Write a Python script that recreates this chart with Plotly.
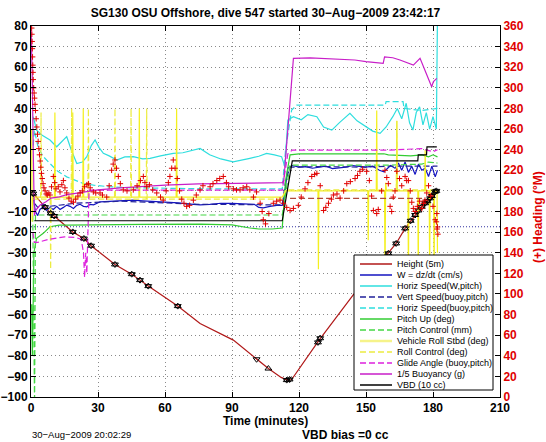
import plotly.graph_objects as go

# ---------------- data ----------------
title_text = "SG130 OSU Offshore, dive 547 started 30\u2212Aug\u22122009 23:42:17"
x_label = "Time (minutes)"
y2_label = "(+) Heading (\u00b0M)"
footer_left = "30\u2212Aug\u22122009 20:02:29"
footer_mid = "VBD bias =0 cc"
x_ticks = [0, 30, 60, 90, 120, 150, 180, 210]

legend_labels = ["Height (5m)", "W = dz/dt (cm/s)", "Horiz Speed(W,pitch)",
                 "Vert Speed(buoy,pitch)", "Horiz Speed(buoy,pitch)", "Pitch Up (deg)",
                 "Pitch Control (mm)", "Vehicle Roll Stbd (deg)", "Roll Control (deg)",
                 "Glide Angle (buoy,pitch)", "1/5 Buoyancy (g)", "VBD (10 cc)"]

height_t = [0, 1, 6.3, 8.8, 10.4, 18.7, 23.7, 26.9, 37.6, 45.1, 48.8, 52.5, 65.7, 75.7, 90.6,
            101, 106.3, 112, 114.8, 116.7, 129, 144.2, 160, 163.5, 167.5, 172, 175, 178.7, 180.9, 182]
height_v = [0, -1.3, -7.9, -10.9, -12.2, -19.9, -23.1, -26.6, -35.7, -40.4, -43.3, -46.2, -55.9, -64.3, -72.4,
            -81.7, -86.2, -90.5, -91.8, -91.5, -72.4, -50.6, -30.3, -25.5, -18.2, -11.7, -7.7, -3.6, -0.4, 0.3]

mk_up_t = [1, 6.3, 8.8, 10.4, 18.7, 23.7, 26.9, 37.6, 45.1, 48.8, 52.5, 65.7, 106.3, 114.5, 115.8,
           128.5, 129.5, 160, 163.5, 167.5, 170, 172, 173.5, 175, 176.5, 177.5, 178.7, 179.5, 180.9, 181.5]
mk_up_v = [-1.3, -7.9, -10.9, -12.2, -19.9, -23.1, -26.6, -35.7, -40.4, -43.3, -46.2, -55.9, -86.2, -91.8, -91.5,
           -73.5, -71.5, -30.3, -25.5, -18.2, -14.5, -11.7, -9.5, -7.7, -6, -5, -3.6, -2.5, -0.4, 0]
mk_dn_t = [1, 6.3, 8.8, 10.4, 18.7, 23.7, 26.9, 37.6, 45.1, 48.8, 52.5, 65.7, 101, 114.5, 115.8,
           128.5, 129.5, 160, 163.5, 167.5, 170, 172, 173.5, 175, 176.5, 177.5, 178.7, 179.5, 180.9, 181.5]
mk_dn_v = [-1.3, -7.9, -10.9, -12.2, -19.9, -23.1, -26.6, -35.7, -40.4, -43.3, -46.2, -55.9, -81.7, -91.8, -91.5,
           -73.5, -71.5, -30.3, -25.5, -18.2, -14.5, -11.7, -9.5, -7.7, -6, -5, -3.6, -2.5, -0.4, 0]

w_t = [0.5, 1.2, 2, 3, 4, 5.5, 7, 8.5, 10, 11.5, 13, 14.5, 16, 17.5, 19, 20.5, 22, 23.5, 25, 26.5, 28, 31, 35,
       40, 45.7, 50, 55, 60.8, 66, 70, 75.7, 80, 85, 90, 95, 100, 102, 104, 107, 110, 112.5,
       113.5, 115, 117, 120, 123, 126, 129, 132, 135, 138, 141, 144, 147, 150, 153, 156, 158, 159.5, 161,
       163, 164.5, 166, 167.5, 169, 170.5, 172, 173.5, 175, 176.5, 178, 179.5, 181, 182]
w_v = [0, -5, -10, -12, -9, -7.7, -9.5, -8, -9, -7.5, -9, -8, -6.9, -7.5, -8.5, -7, -6.5, -7.5, -7.7, -6.5, -6.8, -5.3, -5,
       -4.8, -4.5, -4.8, -5.1, -5.3, -5.8, -6.3, -6.8, -6.5, -6, -6.1, -6.2, -6.5, -8, -8.2, -7.5, -7, -7,
       -2, 11, 12.3, 11.5, 11.8, 11, 11.5, 12, 10.8, 11, 11.5, 12.3, 12, 11.5, 12, 10, 9.3, 11, 12.3,
       11, 13.5, 10, 14, 9, 12, 8, 13, 10, 11, 7, 12, 6.8, 10]

hs_t = [1, 2.5, 5, 8.5, 11.5, 14, 16, 18, 20.5, 23, 25, 27, 28.7, 30.5, 32.4, 35, 38.4, 42, 45.8, 50, 53.3, 58,
        63.7, 68, 75.7, 80, 85, 90.5, 95, 98, 102, 105.5, 109, 112.2, 113.7, 115, 117.5, 121, 124, 128, 131,
        134.7, 138, 140, 142.8, 146, 150, 153, 156.3, 159, 162, 164, 166, 168, 169.5, 171, 172.5, 174, 175.5,
        177, 178.5, 180, 181.5, 181.8, 182]
hs_v = [36, 29.5, 27, 24.7, 21.4, 24, 26.3, 20, 13.3, 14, 16.6, 22, 24.7, 21, 18.2, 17, 15, 16.5, 16.6, 15.5, 15.8, 17,
        18.2, 18.5, 20.6, 17.5, 15.5, 14.1, 15, 15.8, 16.8, 18.2, 17.5, 16.6, 11.7, 34.4, 36, 34.5, 37, 36, 31,
        29.5, 33, 35, 37.6, 34, 31.1, 29, 27.9, 31, 36, 40, 35, 42.5, 33, 29.5, 38, 40.8, 32,
        38, 30, 36, 30, 85, 85]

vs_t = [0.8, 1.5, 3, 5, 8, 12, 20, 40, 75, 112.5, 114, 116, 130, 150, 160, 170, 182]
vs_v = [-2, -6, -8, -6.5, -7.5, -7, -6, -5, -6.5, -6.8, 5, 11.5, 11.8, 11.5, 12, 12, 12]

hb_t = [1, 1.5, 3, 5.2, 8.5, 12, 16, 20, 23.4, 28, 35, 45, 60, 80, 100, 112.5, 114, 116.7, 119, 140, 158.6,
        159, 166.6, 167, 175, 182]
hb_v = [22, 29.5, 22, 17, 13.3, 9.5, 6.8, 5, 3.6, 2.8, 2, 1.5, 1.2, 1, 1, 1, 20, 39.2, 41.6, 41.6, 41.6,
        43.3, 43.3, 40, 39, 40]

pu_t = [0.3, 0.6, 0.9, 1.3, 2.5, 5.5, 8.5, 12.7, 16, 30, 50, 75.7, 90, 98, 102, 108, 112.5, 114, 116, 120,
        140, 158, 160, 170, 175, 178, 180, 182]
pu_v = [-55, -80, -60, -30, -23, -20.6, -17.4, -16.6, -16.6, -16.3, -16.2, -16.1, -16.5, -18, -18.5, -18.5, -18, 5, 17.5, 18,
        18, 18, 17.5, 17, 17.5, 16.5, 17.5, 16.5]

pc_t = [0.8, 1.2, 1.6, 2.0, 112.5, 116, 117, 160, 175, 178, 182]
pc_v = [-12, -105, -105, -11.7, -11.7, 12.5, 12.5, 12.5, 13, 14, 13.5]

vr_t = [0.3, 0.5, 0.8, 10.5, 10.7, 10.9, 18.5, 18.7, 18.9, 23.2, 23.4, 23.6, 48.3, 48.5, 48.7, 65.0, 65.2, 65.4,
        112.5, 114, 128.5, 128.7, 128.9, 150.8, 151, 151.2, 154.6, 154.8, 155.0, 158.3, 158.5, 158.8, 159.2,
        163.6, 163.8, 164.0, 168.8, 169, 169.2, 173.2, 173.4, 173.6, 176.3, 176.5, 176.7, 178.3, 178.5, 178.7,
        180.3, 180.5, 180.7, 181.8, 182]
vr_v = [30, -15, -3, -3, 38, -3, -3, 38, -3, -3, 40, -3, -3, 40, -3, -3, 40, -3,
        -3, 0, 0, -38, 0, 0, -24, 0, 0, 39, 0, 0, -43, 4, 0,
        0, 34, 0, 0, -43, 0, 0, -40, 0, 0, 20, 0, 0, -43, 0,
        0, -45, 0, 0, -30]

rc_t = [0.8, 4.3, 4.5, 4.7, 8.6, 8.8, 9.0, 18.0, 18.2, 18.4, 25.5, 25.7, 25.9, 37.4, 37.6, 37.8, 44.6, 44.8, 45.0,
        51.6, 51.8, 52.0, 112.5, 114, 160, 163.6, 163.8, 164, 182]
rc_v = [-4, -4, 38, -4, -4, -38, -4, -4, 40, -4, -4, 40, -4, -4, 40, -4, -4, 40, -4,
        -4, 40, -4, -4, 0.5, 0.5, 0.5, 34, 0.5, 0.5]

ga_t = [0.8, 1.5, 3, 8, 15, 20, 22.5, 23.5, 24, 24.5, 25, 25.5, 26, 30, 60, 112.5, 115, 117, 160, 175, 180, 182]
ga_v = [-20, -25, -25, -23.5, -22.3, -22.6, -23.5, -30, -42, -30, -40, -10, 0.4, 0.4, 0.4, 0.4, 18, 19.8, 19.8, 20.5, 19, 20]

bu_t = [0, 0.5, 1, 1.5, 2.2, 4, 6.7, 9, 12.7, 16, 20, 30, 40, 50, 60, 75, 90, 100, 110, 112.5, 113.2, 117.5, 125,
        135, 145, 150, 155, 157.7, 158.3, 162, 165.2, 168, 171.2, 174.2, 176.4, 178, 179.4, 180.2, 181.7]
bu_v = [80, 60, 20, -12, -9.3, -7, -5.3, -3.5, -2.9, -1.8, -1.2, 0.5, 1.5, 2.2, 2.8, 3.4, 3.6, 3.8, 4, 4, 5, 64.3, 64.5,
        64, 63.5, 62.7, 62.4, 61.9, 65, 64.6, 63.5, 62.5, 61, 64.3, 58.6, 55, 50.5, 53, 54.6]

vbd_t = [1.5, 112.5, 117, 173.2, 173.4, 177.1, 177.3, 181.7]
vbd_v = [-14.5, -14.5, 14.6, 14.6, 17.5, 17.5, 21.4, 21.4]

ref_t = [0, 210]
ref_v = [-17.4, -17.4]
rb_t = [116, 176]
rb_v = [-3.6, -3.6]

heading_t = [0.3, 0.4, 0.5, 0.6, 0.7, 0.8, 0.9, 1.0, 1.2, 1.4, 1.6, 1.8, 2.0, 2.3, 2.6, 2.9, 3.2, 3.5, 3.8, 4.1,
             4.4, 4.7, 5.0, 5.4, 5.8, 6.3, 6.8, 7.3, 8.0, 8.5, 9.2, 10, 10.6, 11.2, 12.2, 13, 13.8, 14.5, 15.2,
             16, 17, 18, 19, 20, 21, 22, 23, 24, 25, 25.7, 26.5, 27.9, 29, 30.9, 32, 33.9, 35, 36.1, 36.8,
             37.6, 38.3, 39.1, 40, 41.3, 43, 45.8, 47.5, 49, 50.3, 51, 51.8, 53, 54.5, 56.3, 58, 59.2, 60.5,
             61.5, 62.2, 63, 63.7, 64.5, 65.5, 66.5, 67.5, 68.5, 69.7, 71, 72.7, 74, 75.7, 77, 80.2, 81.5, 83.2,
             84.5, 86.1, 87.5, 88.5, 90.6, 92, 93.6, 95, 96.6, 98, 99.6, 101, 102.6, 103.5, 104, 105, 106.5,
             108.5, 110, 111.5, 113, 114.5, 116, 117.5, 119.7, 121, 122.7, 124, 125.7, 127, 128, 129.5, 131,
             132, 133.2, 134.5, 135.4, 137, 138.4, 140, 141.4, 143, 145.1, 146.2, 147.3, 148.5, 150.3, 151.5,
             152.5, 153.3, 154.8, 155.5, 157, 158.5, 159.3, 160, 160.8, 161.5, 162.2, 163, 163.8, 165, 166,
             167.5, 168.2, 169, 169.8, 170.5, 171.2, 172, 173, 174, 175, 175.7, 176.4, 177.2, 178, 179, 180,
             181, 181.5, 181.7, 181.8, 182, 182.2]
heading_h = [358, 352, 345, 338, 330, 322, 315, 308, 300, 295, 290, 284, 278, 270, 262, 255, 248, 241, 235, 229,
             223, 217, 212, 207, 203, 200, 197, 196, 198, 196, 204, 214, 208, 202, 204, 199, 206, 210, 203,
             198, 193, 190, 189, 192, 195, 198, 200, 204, 206, 207, 203, 199, 198, 198, 196, 194, 205, 220, 226,
             230, 222, 214, 207, 201, 200, 201, 205, 210, 214, 208, 204, 206, 201, 198, 194, 191, 200,
             208, 214, 222, 230, 222, 212, 200, 192, 188, 185, 186, 191, 196, 201, 205, 204, 207, 210,
             212, 214, 208, 204, 202, 201, 201, 203, 204, 201, 194, 199, 188, 180, 172, 168, 178,
             188, 190, 191, 188, 184, 181, 183, 186, 194, 202, 208, 214, 216, 217, 205, 181,
             184, 188, 192, 196, 197, 193, 200, 207, 209, 212, 215, 219, 221, 219, 210,
             195, 181, 178, 182, 200, 220, 213, 207, 185, 180, 194, 200, 219, 212, 205,
             214, 210, 210, 200, 189, 183, 180, 185, 190, 183, 188, 191, 198, 205, 195, 185,
             172, 170, 178, 163, 165, 158]

# ---------------- styles ----------------
C_HEIGHT = "#b01818"
C_W = "#1414c0"
C_CYAN = "#2edede"
C_VS = "#22229a"
C_PITCH = "#33cc33"
C_PCTL = "#44d844"
C_ROLL = "#f4f020"
C_RCTL = "#ecec40"
C_GLIDE = "#dd22dd"
C_BUOY = "#c81ec8"
C_VBD = "#000000"
C_HEAD = "#e00000"
DASH = "6px,3px"
FONT = "Liberation Sans, Arial, Helvetica, sans-serif"

fig = go.Figure()


def add_line(t, v, color, dash="solid", width=1.2):
    fig.add_trace(go.Scatter(x=t, y=v, mode="lines", line=dict(color=color, width=width, dash=dash),
                             showlegend=False, hoverinfo="skip"))


add_line(ref_t, ref_v, "#3030a0", dash="1px,2px", width=1)
add_line(height_t, height_v, C_HEIGHT)
add_line(w_t, w_v, C_W)
add_line(hs_t, hs_v, C_CYAN)
add_line(vs_t, vs_v, C_VS, dash=DASH)
add_line(hb_t, hb_v, C_CYAN, dash=DASH)
add_line(pu_t, pu_v, C_PITCH)
add_line(pc_t, pc_v, C_PCTL, dash=DASH)
add_line(vr_t, vr_v, C_ROLL)
add_line(rc_t, rc_v, C_RCTL, dash=DASH)
add_line(ga_t, ga_v, C_GLIDE, dash=DASH)
add_line(bu_t, bu_v, C_BUOY)
add_line(rb_t, rb_v, "#b04a3a", dash=DASH)
add_line(vbd_t, vbd_v, C_VBD)

fig.add_trace(go.Scatter(x=mk_up_t, y=mk_up_v, mode="markers", showlegend=False, hoverinfo="skip",
                         marker=dict(symbol="triangle-up-open", size=6, color="black", line=dict(width=1, color="black"))))
fig.add_trace(go.Scatter(x=mk_dn_t, y=mk_dn_v, mode="markers", showlegend=False, hoverinfo="skip",
                         marker=dict(symbol="triangle-down-open", size=6, color="black", line=dict(width=1, color="black"))))

fig.add_trace(go.Scatter(x=heading_t, y=heading_h, mode="markers", yaxis="y2", showlegend=False, hoverinfo="skip",
                         marker=dict(symbol="cross-thin", size=4, color=C_HEAD, line=dict(width=1, color=C_HEAD))))

# ---------------- manual legend (compact, MATLAB style) ----------------
legend_styles = [(C_HEIGHT, "solid"), (C_W, "solid"), (C_CYAN, "solid"), (C_VS, DASH), (C_CYAN, DASH),
                 (C_PITCH, "solid"), (C_PCTL, DASH), ("#f6f38a", "solid"), (C_RCTL, DASH), (C_GLIDE, DASH),
                 (C_BUOY, "solid"), (C_VBD, "solid")]

L, T, PW, PH = 31, 26, 469, 371


def px_x(p):
    return (p - L) / PW


def px_y(p):
    return (T + PH - p) / PH


shapes = [dict(type="rect", xref="paper", yref="paper", x0=px_x(354), x1=px_x(493), y0=px_y(390), y1=px_y(255),
               line=dict(color="black", width=1), fillcolor="white", layer="above")]
annotations = []
for i, (lab, (col, dsh)) in enumerate(zip(legend_labels, legend_styles)):
    yy = px_y(264 + 11 * i)
    shapes.append(dict(type="line", xref="paper", yref="paper", x0=px_x(360), x1=px_x(392), y0=yy, y1=yy,
                       line=dict(color=col, width=1.5 if i != 7 else 2.5, dash=dsh), layer="above"))
    annotations.append(dict(text=lab, xref="paper", yref="paper", x=px_x(395), y=yy, xanchor="left",
                            yanchor="middle", showarrow=False, font=dict(family=FONT, size=9, color="black")))

annotations.append(dict(text=x_label, xref="paper", yref="paper", x=0.5, y=px_y(421), xanchor="center",
                        yanchor="middle", showarrow=False, font=dict(family=FONT, size=12, color="black", weight="bold")))
annotations.append(dict(text=footer_left, xref="paper", yref="paper", x=px_x(30), y=px_y(434), xanchor="left",
                        yanchor="middle", showarrow=False, font=dict(family=FONT, size=9.5, color="black")))
annotations.append(dict(text=footer_mid, xref="paper", yref="paper", x=px_x(300), y=px_y(435), xanchor="left",
                        yanchor="middle", showarrow=False, font=dict(family=FONT, size=12, color="black", weight="bold")))
annotations.append(dict(text=y2_label, xref="paper", yref="paper", x=px_x(538), y=px_y(217), xanchor="center",
                        yanchor="middle", textangle=-90, showarrow=False,
                        font=dict(family=FONT, size=12, color="#e00000", weight="bold")))

axis_common = dict(showline=True, linecolor="black", linewidth=1, ticks="inside", ticklen=5, tickcolor="black",
                   zeroline=False, showgrid=True, gridcolor="#8a8a8a", griddash="1px,3px", gridwidth=1,
                   automargin=False)

fig.update_layout(
    template="none",
    width=546, height=442,
    margin=dict(l=L, r=546 - L - PW, t=T, b=442 - T - PH, pad=0),
    paper_bgcolor="white", plot_bgcolor="white",
    font=dict(family=FONT, size=12, color="black"),
    showlegend=False,
    title=dict(text=title_text, x=0.5 * (L + L + PW) / 546, xanchor="center", y=1 - 13 / 442, yanchor="middle",
               yref="container", font=dict(family=FONT, size=12, weight="bold")),
    xaxis=dict(range=[0, 210], tickvals=x_ticks, mirror="ticks",
               tickfont=dict(family=FONT, size=12, weight="bold"), **axis_common),
    yaxis=dict(range=[-100, 80], dtick=10, mirror="ticks",
               tickfont=dict(family=FONT, size=12, weight="bold"), **axis_common),
    yaxis2=dict(range=[0, 360], dtick=20, overlaying="y", side="right", showgrid=False, zeroline=False,
                showline=True, linecolor="black", ticks="inside", ticklen=5, tickcolor="black", automargin=False,
                tickfont=dict(family=FONT, size=12, weight="bold", color="#e00000")),
    shapes=shapes,
    annotations=annotations,
)

fig.write_html("out.html", config={"displayModeBar": False},
               post_script="document.body.style.margin='0px';document.body.style.overflow='hidden';")
